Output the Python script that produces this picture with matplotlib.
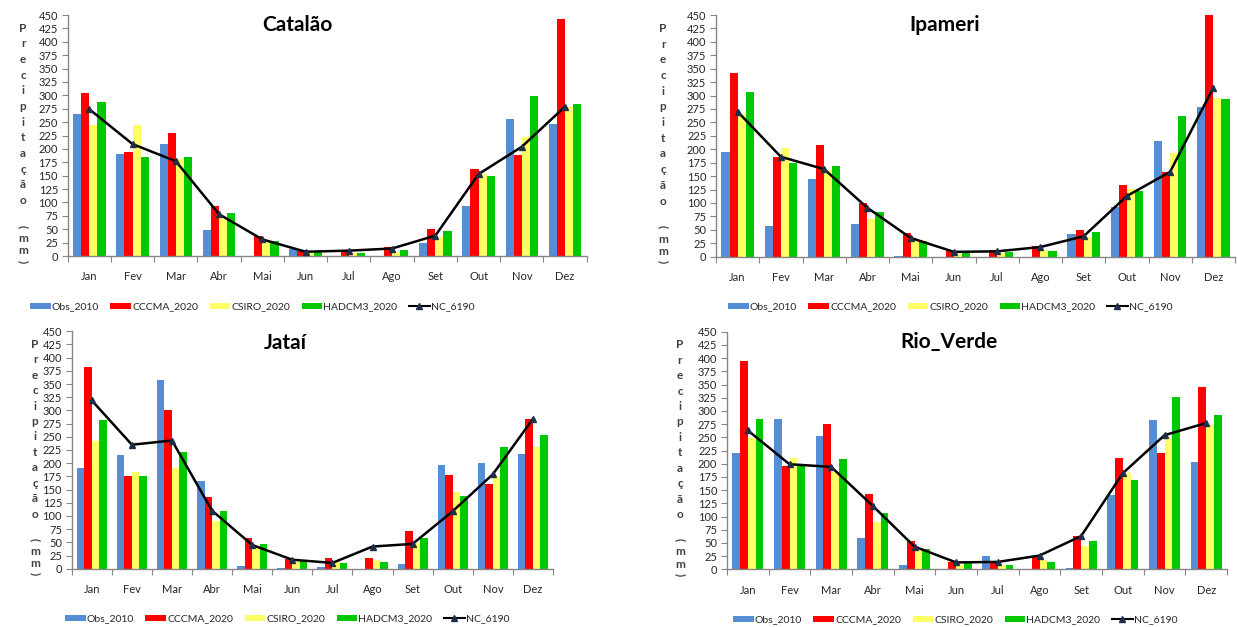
import matplotlib
matplotlib.use('Agg')
import matplotlib.pyplot as plt
import numpy as np
from matplotlib.lines import Line2D
from matplotlib.patches import Patch

plt.rcParams['font.family'] = ['Lato', 'DejaVu Sans']

months = ['Jan', 'Fev', 'Mar', 'Abr', 'Mai', 'Jun', 'Jul', 'Ago', 'Set', 'Out', 'Nov', 'Dez']
series_names = ['Obs_2010', 'CCCMA_2020', 'CSIRO_2020', 'HADCM3_2020']
line_name = 'NC_6190'
yticks = list(range(0, 451, 25))

catalao_obs = [265, 190, 210, 48, 0, 13, 0, 0, 25, 93, 255, 246]
catalao_cccma = [305, 194, 229, 93, 38, 9, 10, 16, 50, 162, 189, 442]
catalao_csiro = [245, 245, 182, 71, 29, 5, 5, 8, 36, 154, 222, 278]
catalao_hadcm3 = [287, 185, 185, 80, 28, 7, 6, 11, 46, 149, 299, 284]
catalao_nc = [274, 209, 177, 78, 31, 8, 10, 14, 38, 153, 204, 279]

ipameri_obs = [195, 58, 145, 61, 2, 0, 0, 0, 42, 93, 215, 279]
ipameri_cccma = [342, 186, 208, 100, 44, 11, 12, 20, 50, 133, 158, 450]
ipameri_csiro = [265, 202, 161, 71, 30, 5, 6, 12, 37, 126, 194, 296]
ipameri_hadcm3 = [306, 175, 169, 83, 29, 9, 9, 11, 46, 123, 262, 294]
ipameri_nc = [270, 186, 163, 91, 35, 9, 10, 18, 38, 113, 158, 315]

jatai_obs = [190, 215, 357, 166, 6, 2, 4, 0, 9, 197, 200, 217]
jatai_cccma = [383, 176, 300, 136, 58, 19, 20, 20, 71, 177, 160, 283]
jatai_csiro = [242, 183, 191, 90, 42, 13, 12, 16, 49, 146, 174, 231]
jatai_hadcm3 = [282, 176, 222, 109, 46, 15, 11, 13, 58, 138, 231, 253]
jatai_nc = [319, 235, 243, 110, 45, 17, 11, 42, 47, 109, 179, 284]

rioverde_obs = [221, 284, 253, 59, 9, 0, 25, 0, 2, 141, 283, 204]
rioverde_cccma = [394, 196, 276, 142, 53, 13, 13, 25, 64, 211, 221, 345]
rioverde_csiro = [248, 211, 185, 90, 38, 9, 9, 17, 45, 183, 249, 273]
rioverde_hadcm3 = [284, 196, 209, 107, 38, 12, 9, 13, 53, 169, 326, 292]
rioverde_nc = [263, 199, 194, 120, 43, 13, 14, 26, 63, 182, 254, 277]

colors = ['#558ED5', '#FF0000', '#FFFF66', '#00C800']

W, H = 1238, 627
fig = plt.figure(figsize=(W / 100, H / 100), dpi=100)

panels = [
    dict(title='Catalão', bars=[catalao_obs, catalao_cccma, catalao_csiro, catalao_hadcm3], nc=catalao_nc,
         box=(67.7, 15, 586.7, 256), tpos=(297, 25), lpos=(252, 307), ylx=23),
    dict(title='Ipameri', bars=[ipameri_obs, ipameri_cccma, ipameri_csiro, ipameri_hadcm3], nc=ipameri_nc,
         box=(716, 15, 1235, 256.7), tpos=(945, 25), lpos=(950, 307), ylx=663),
    dict(title='Jataí', bars=[jatai_obs, jatai_cccma, jatai_csiro, jatai_hadcm3], nc=jatai_nc,
         box=(71.7, 331.3, 553, 568.7), tpos=(285, 343), lpos=(287, 619), ylx=35),
    dict(title='Rio_Verde', bars=[rioverde_obs, rioverde_cccma, rioverde_csiro, rioverde_hadcm3], nc=rioverde_nc,
         box=(727, 331.7, 1227, 569.3), tpos=(949, 342), lpos=(955, 620), ylx=680),
]

grey = '#868686'
label_chars = list('Precipitação')
x = np.arange(len(months))
w = 0.187
offsets = [-1.5 * w, -0.5 * w, 0.5 * w, 1.5 * w]

for p in panels:
    l, t, r, b = p['box']
    ax = fig.add_axes([l / W, 1 - b / H, (r - l) / W, (b - t) / H])
    for vals, off, c in zip(p['bars'], offsets, colors):
        ax.bar(x + off, vals, width=w, color=c, linewidth=0, zorder=2)
    ax.plot(x, p['nc'], color='black', lw=1.8, marker='^', markersize=4,
            markerfacecolor='#1F2F4A', markeredgecolor='#1F2F4A', zorder=3)
    ax.set_xlim(-0.5, 11.5)
    ax.set_ylim(0, 450)
    ax.set_yticks(yticks)
    ax.set_xticks(np.arange(-0.5, 12, 1))
    ax.set_xticklabels([])
    ax.set_xticks(x, minor=True)
    ax.set_xticklabels(months, minor=True)
    ax.tick_params(axis='x', which='major', length=4, color=grey, direction='out')
    ax.tick_params(axis='x', which='minor', length=0, pad=11, labelsize=8, labelcolor='#262626')
    ax.tick_params(axis='y', length=4, color=grey, pad=3, labelsize=8, labelcolor='#262626')
    for s in ['top', 'right']:
        ax.spines[s].set_visible(False)
    for s in ['left', 'bottom']:
        ax.spines[s].set_color(grey)
        ax.spines[s].set_linewidth(1.0)

    fig.text(p['tpos'][0] / W, 1 - p['tpos'][1] / H, p['title'], ha='center', va='center',
             fontsize=15, fontweight='bold', color='black')

    # stacked y label
    fr = [0.945 - i * 0.065 for i in range(len(label_chars))]
    items = list(zip(label_chars, fr, [0] * len(label_chars)))
    items += [('(', 0.124, -90), ('m', 0.073, 0), ('m', 0.022, 0), (')', -0.022, -90)]
    for ch, f, rot in items:
        ypx = t + (1 - f) * (b - t)
        fig.text(p['ylx'] / W, 1 - ypx / H, ch, ha='center', va='center', fontsize=8.5,
                 fontweight='bold', color='#404040', rotation=rot)

    handles = [Patch(facecolor=c, edgecolor='none') for c in colors]
    handles.append(Line2D([0], [0], color='black', lw=1.5, marker='^', markersize=4,
                          markerfacecolor='#1F2F4A', markeredgecolor='#1F2F4A'))
    ax.legend(handles, series_names + [line_name], loc='center',
              bbox_to_anchor=(p['lpos'][0] / W, 1 - p['lpos'][1] / H), bbox_transform=fig.transFigure,
              ncol=5, frameon=False, fontsize=7.5, handlelength=2.0, handleheight=0.6,
              handletextpad=0.1, columnspacing=1.1, borderpad=0, labelcolor='#262626')

fig.savefig('out.png', dpi=100, facecolor='white')
